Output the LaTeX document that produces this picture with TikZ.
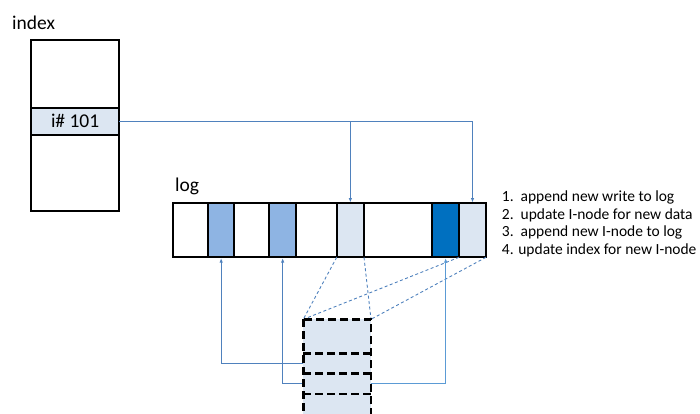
\documentclass[tikz,border=0pt]{standalone}
\usepackage{fontspec}
\setmainfont{Carlito}
\usetikzlibrary{
    arrows.meta,
    positioning
}
\definecolor{LinkBlue}{RGB}{79,129,189}
\definecolor{LinkLight}{RGB}{91,155,213}
\definecolor{CellLight}{RGB}{220,230,242}
\definecolor{CellMid}{RGB}{142,180,227}
\definecolor{CellDark}{RGB}{0,112,192}
\newcommand{\biglabel}{\fontsize{19.5}{23}\selectfont}
\newcommand{\smalllabel}{\fontsize{15.5}{18}\selectfont}

\begin{document}
\begin{tikzpicture}[
    x=1pt, y=-1pt,
    >=Latex,
    box/.style={draw=black, line width=1.8pt, minimum width=88.3pt,
        inner sep=0pt, outer sep=0pt},
    cell/.style={draw=black, line width=1.8pt, minimum height=54pt,
        inner sep=0pt, outer sep=0pt},
    ibox/.style={fill=CellLight, minimum width=67.7pt,
        inner sep=0pt, outer sep=0pt},
    dashline/.style={draw=black, line width=2.6pt, dash pattern=on 8pt off 4pt},
    link/.style={draw=LinkBlue, line width=0.9pt,
        -{Latex[length=4.5pt,width=3.5pt]}, shorten >=0.8pt},
    guide/.style={draw=LinkBlue, line width=0.9pt, dash pattern=on 3pt off 2.5pt},
    lbl/.style={font=\biglabel, inner sep=0pt, anchor=base west},
    item/.style={font=\smalllabel, inner sep=0pt, anchor=base west}
]

\useasboundingbox (0,0) rectangle (700,413);
\clip (0,0) rectangle (700,413);

% Index
\node[lbl] (idxlabel) at (12,29.5) {index};
\node[box, minimum height=67.7pt, anchor=north west] (idxtop) at (31,40) {};
\node[box, fill=CellLight, minimum height=27.3pt, below=0pt of idxtop,
    font=\biglabel] (inode) {i\# 101};
\node[box, minimum height=75.7pt, below=0pt of inode] (idxbot) {};

% Log
\node[lbl] (loglabel) at (175,191) {log};
\node[cell, minimum width=35pt, anchor=north west] (c1) at (173.3,203.3) {};
\node[cell, fill=CellMid, minimum width=25.7pt, right=0pt of c1] (c2) {};
\node[cell, minimum width=35.3pt, right=0pt of c2] (c3) {};
\node[cell, fill=CellMid, minimum width=26.7pt, right=0pt of c3] (c4) {};
\node[cell, minimum width=40.7pt, right=0pt of c4] (c5) {};
\node[cell, fill=CellLight, minimum width=27.3pt, right=0pt of c5] (c6) {};
\node[cell, minimum width=68.3pt, right=0pt of c6] (c7) {};
\node[cell, fill=CellDark, minimum width=26.7pt, right=0pt of c7] (c8) {};
\node[cell, fill=CellLight, minimum width=27pt, right=0pt of c8] (c9) {};

% Steps
\node[item] (item1) at (501.7,201.7) {1.\ \ append new write to log};
\node[item] (item2) at (501.7,219.2) {2.\ \ update I-node for new data};
\node[item] (item3) at (501.7,236.7) {3.\ \ append new I-node to log};
\node[item] (item4) at (501.7,254.2) {4. update index for new I-node};

% I-node (expanded)
\node[ibox, minimum height=34pt, anchor=north west] (r1) at (303.3,319.3) {};
\node[ibox, minimum height=20pt, below=0pt of r1] (r2) {};
\node[ibox, minimum height=20.7pt, below=0pt of r2] (r3) {};
\node[ibox, minimum height=30pt, below=0pt of r3] (r4) {};

% Index to log
\draw[link] (inode.east) -| (c6.north);
\draw[link] (inode.east) -| (c9.north);

% Zoom lines
\draw[guide] (c6.south west) -- (r1.north west);
\draw[guide] (c6.south east) -- (r1.north east);
\draw[guide] (c9.south west) -- (r1.north west);
\draw[guide] (c9.south east) -- (r1.north east);

% Pointers to data
\draw[link] (r2.west) -| (c2.south);
\draw[link] (r3.west) -| (c4.south);
\draw[link, draw=LinkLight] (r3.east) -| (c8.south);

% Dashed outline
\draw[dashline] (r1.north west) rectangle (r4.south east);
\foreach \r in {r1,r2,r3}
    \draw[dashline] (\r.south west) -- (\r.south east);

\end{tikzpicture}
\end{document}
